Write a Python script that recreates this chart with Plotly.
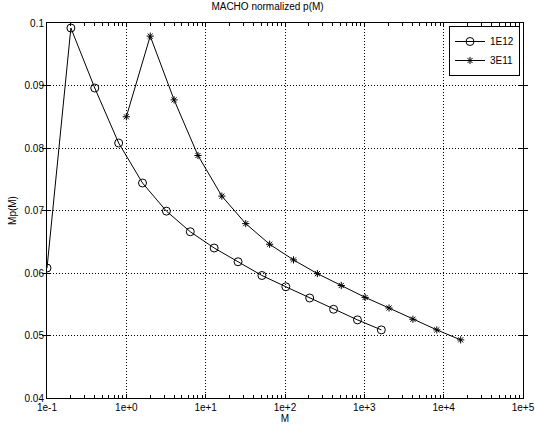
import plotly.graph_objects as go

m_1e12 = [0.1, 0.2, 0.4, 0.8, 1.6, 3.2, 6.4, 12.8, 25.6, 51.2, 102.4, 204.8, 409.6, 819.2, 1638.4]
mp_1e12 = [0.0608, 0.0992, 0.0896, 0.0808, 0.0744, 0.0699, 0.0666, 0.0640, 0.0618, 0.0596, 0.0578, 0.0560, 0.0542, 0.0525, 0.0509]

m_3e11 = [1, 2, 4, 8, 16, 32, 64, 128, 256, 512, 1024, 2048, 4096, 8192, 16384]
mp_3e11 = [0.0850, 0.0979, 0.0877, 0.0788, 0.0723, 0.0679, 0.0646, 0.0621, 0.0599, 0.0580, 0.0561, 0.0544, 0.0526, 0.0509, 0.0493]

x_tickvals = [0.1, 1, 10, 100, 1000, 10000, 100000]
x_ticktext = ["1e-1", "1e+0", "1e+1", "1e+2", "1e+3", "1e+4", "1e+5"]
x_minor = [d * k for d in [0.1, 1, 10, 100, 1000, 10000] for k in range(2, 10)]
y_tickvals = [0.04, 0.05, 0.06, 0.07, 0.08, 0.09, 0.1]
y_ticktext = ["0.04", "0.05", "0.06", "0.07", "0.08", "0.09", "0.1"]

fig = go.Figure()
fig.add_trace(go.Scatter(x=m_1e12, y=mp_1e12, mode="lines+markers", name="1E12",
                         line=dict(color="black", width=1),
                         marker=dict(symbol="circle-open", size=8, color="black", line=dict(width=1))))
fig.add_trace(go.Scatter(x=m_3e11, y=mp_3e11, mode="lines+markers", name="3E11",
                         line=dict(color="black", width=1),
                         marker=dict(symbol="asterisk-open", size=6, color="black", line=dict(width=1))))
# invisible trace to activate the minor-tick axis
fig.add_trace(go.Scatter(x=[1], y=[0.07], xaxis="x2", mode="markers",
                         marker=dict(opacity=0), showlegend=False, hoverinfo="skip"))

font = dict(family="Liberation Sans, Arial, sans-serif", size=10, color="black")
grid = dict(showgrid=True, gridcolor="black", griddash="1px,2px", gridwidth=1)

fig.update_layout(
    width=535, height=429,
    margin=dict(l=47, r=12, t=23, b=31, autoexpand=False),
    paper_bgcolor="white", plot_bgcolor="white",
    font=font,
    title=dict(text="MACHO normalized p(M)", x=0.5, xanchor="center", y=0.9837, yanchor="middle",
               font=font),
    legend=dict(x=0.9937, y=0.992, xanchor="right", yanchor="top", bgcolor="white",
                bordercolor="black", borderwidth=1, font=font, tracegroupgap=0,
                itemwidth=30),
    showlegend=True,
    xaxis=dict(type="log", range=[-1, 5], tickvals=x_tickvals, ticktext=x_ticktext,
               showline=True, linecolor="black", linewidth=1, mirror="allticks",
               ticks="inside", ticklen=4, tickcolor="black", **grid,
               zeroline=False, automargin=False, tickfont=font,
               title=dict(text="M", standoff=1, font=font)),
    xaxis2=dict(type="log", range=[-1, 5], overlaying="x", side="bottom",
                tickvals=x_minor, showticklabels=False, ticks="inside", ticklen=3,
                tickcolor="black", mirror="allticks", showline=False, showgrid=False,
                zeroline=False, automargin=False),
    yaxis=dict(range=[0.04, 0.1], tickvals=y_tickvals, ticktext=y_ticktext,
               showline=True, linecolor="black", linewidth=1, mirror="allticks",
               ticks="inside", ticklen=4, tickcolor="black", **grid,
               zeroline=False, automargin=False, tickfont=font,
               title=dict(text="Mp(M)", standoff=6, font=font)),
)

fig.write_html("out.html", config={"displayModeBar": False},
               post_script="document.body.style.margin='0px';")
